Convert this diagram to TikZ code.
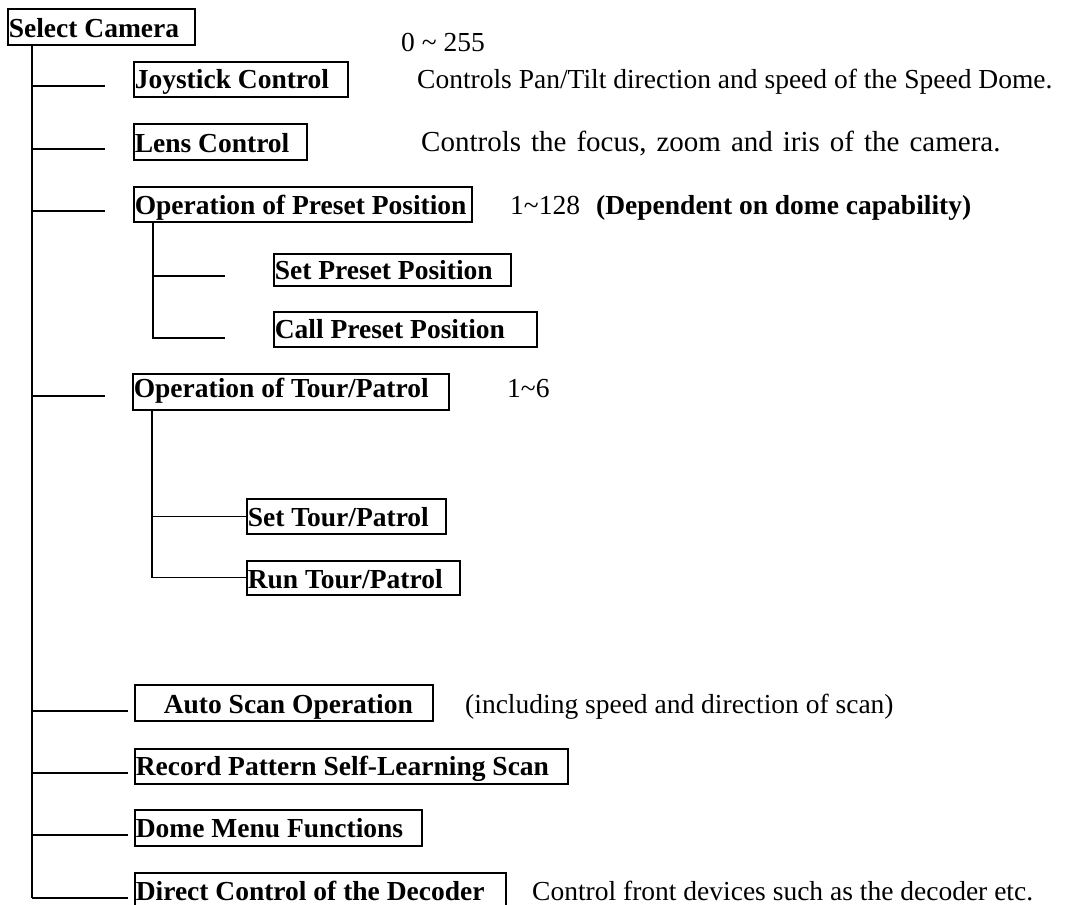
\documentclass[tikz,border=0pt]{standalone}
\usepackage{fontspec}
\setmainfont{Liberation Serif}
\newcommand\boxtxt[2]{\makebox[#1][l]{#2}}
\tikzset{
  bx/.style={draw, line width=1.6pt, font={\fontsize{27.5}{33}\selectfont\bfseries},
    anchor=north west, inner xsep=1pt, inner ysep=0pt},
  note/.style={font=\fontsize{27.5}{33}\selectfont, anchor=base west, inner sep=0pt},
  bnote/.style={note, font={\fontsize{27.5}{33}\selectfont\bfseries}},
  ln/.style={line width=1.2pt}
}
\begin{document}
\begin{tikzpicture}[x=1pt,y=-1pt]
\useasboundingbox (0,0) rectangle (1066,905);
% boxes
\node[bx, text height=29pt, text depth=7pt] (sel) at (7,8) {\boxtxt{185pt}{Select Camera}};
\node[bx, text height=27pt, text depth=8pt] (joy) at (133,61) {\boxtxt{212pt}{Joystick Control}};
\node[bx, text height=29pt, text depth=7pt] (lens) at (133,123) {\boxtxt{171pt}{Lens Control}};
\node[bx, text height=28pt, text depth=7pt] (pre) at (133,186) {\boxtxt{336pt}{Operation of Preset Position}};
\node[bx, text height=26pt, text depth=6pt] (setp) at (273,253) {\boxtxt{235pt}{Set Preset Position}};
\node[bx, text height=27pt, text depth=8pt] (callp) at (273,311) {\boxtxt{261pt}{Call Preset Position}};
\node[bx, text height=24pt, text depth=12pt] (tour) at (132,373) {\boxtxt{314pt}{Operation of Tour/Patrol}};
\node[bx, text height=28pt, text depth=7pt] (sett) at (246,498) {\boxtxt{197pt}{Set Tour/Patrol}};
\node[bx, text height=28pt, text depth=6pt] (runt) at (246,560) {\boxtxt{211pt}{Run Tour/Patrol}};
\node[bx, text height=29pt, text depth=7pt] (auto) at (134,684) {\boxtxt{296pt}{\hspace*{28pt}Auto Scan Operation}};
\node[bx, text height=27pt, text depth=8pt] (rec) at (134,748) {\boxtxt{431pt}{Record Pattern Self-Learning Scan}};
\node[bx, text height=28pt, text depth=8pt] (dome) at (134,809) {\boxtxt{285pt}{Dome Menu Functions}};
\node[bx, text height=28pt, text depth=8pt] (dir) at (134,872) {\boxtxt{369pt}{Direct Control of the Decoder}};
% notes
\node[note] (n0) at (401,51) {0 \textasciitilde\ 255};
\node[note] (n1) at (417,88) {Controls Pan/Tilt direction and speed of the Speed Dome.};
\node[note, font=\fontsize{29}{34}\selectfont] (n2) at (421,151) {\spaceskip=10pt Controls the focus, zoom and iris of the camera.};
\node[note] (n3) at (510,214) {1\textasciitilde128};
\node[bnote] (n4) at (596,214) {(Dependent on dome capability)};
\node[note] (n5) at (507,397) {1\textasciitilde6};
\node[note] (n6) at (465,713) {(including speed and direction of scan)};
\node[note] (n7) at (532,900) {Control front devices such as the decoder etc.};
% trunk coordinates
\coordinate (t0) at (32,44);
\coordinate (tend) at (32,898);
\coordinate (bjoy) at (105,86);
\coordinate (blens) at (105,149);
\coordinate (bpre) at (105,211);
\coordinate (btour) at (105,396);
\coordinate (bauto) at (128,711);
\coordinate (brec) at (128,773);
\coordinate (bdome) at (128,835);
\coordinate (bdir) at (128,898);
\coordinate (p0) at (153,222);
\coordinate (bsetp) at (225,276);
\coordinate (bcallp) at (225,338);
\coordinate (q0) at (152,409);
\draw[ln] (t0) -- (tend);
\foreach \b in {bjoy,blens,bpre,btour,bauto,brec,bdome,bdir}
  \draw[ln] (t0 |- \b) -- (\b);
\draw[ln] (p0) -- (p0 |- bcallp) -- (bcallp);
\draw[ln] (p0 |- bsetp) -- (bsetp);
\draw[ln] (q0) |- (runt.west);
\draw[ln] (q0 |- sett.west) -- (sett.west);
\end{tikzpicture}
\end{document}
